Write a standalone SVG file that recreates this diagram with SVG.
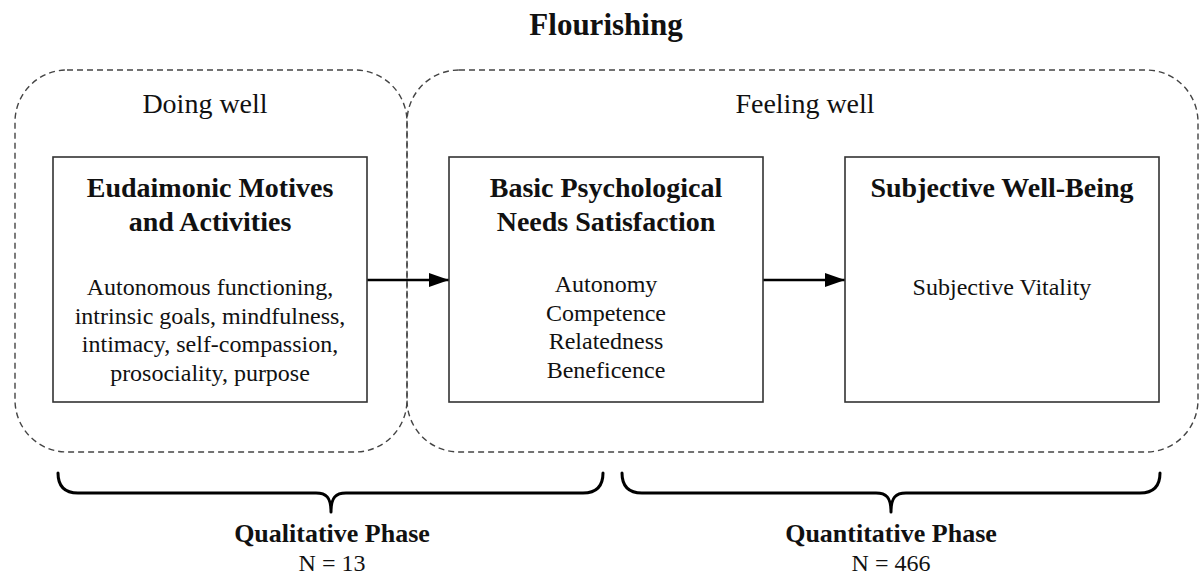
<svg xmlns="http://www.w3.org/2000/svg" width="1201" height="576" viewBox="0 0 1201 576">
<style>
text{font-family:"Liberation Serif","Times New Roman",serif;fill:#111;text-anchor:middle}
.t{font-weight:bold;font-size:28px}
.b{font-size:24px}
.g{font-size:28px}
.h{font-weight:bold;font-size:31px}
.p{font-weight:bold;font-size:26px}
.grp{fill:none;stroke:#444;stroke-width:1.4;stroke-dasharray:6 4}
.box{fill:#fff;stroke:#333;stroke-width:1.6}
.edge{stroke:#000;stroke-width:2.6;fill:none}
.brace{stroke:#000;stroke-width:3;fill:none;stroke-linecap:round;stroke-linejoin:round}
</style>
<defs>
<marker id="ah" markerWidth="20" markerHeight="14" refX="20" refY="7" orient="auto" markerUnits="userSpaceOnUse">
<path d="M0,0 L20,7 L0,14 Z" fill="#000"/>
</marker>
</defs>
<rect width="1201" height="576" fill="#fff"/>
<text class="h" x="606" y="35">Flourishing</text>
<g id="doing-well">
<rect class="grp" x="15" y="70" width="392" height="382" rx="52" ry="52"/>
<text class="g" x="205" y="113">Doing well</text>
</g>
<g id="feeling-well">
<rect class="grp" x="407" y="70" width="791" height="382" rx="52" ry="52"/>
<text class="g" x="805" y="113">Feeling well</text>
</g>
<g id="connectors">
<line class="edge" x1="367" y1="280" x2="449" y2="280" marker-end="url(#ah)"/>
<line class="edge" x1="763" y1="280" x2="845" y2="280" marker-end="url(#ah)"/>
</g>
<g id="eudaimonic">
<rect class="box" x="53" y="157" width="314" height="245"/>
<text class="t" x="210" y="197">Eudaimonic Motives</text>
<text class="t" x="210" y="231">and Activities</text>
<text class="b" x="210" y="295">Autonomous functioning,</text>
<text class="b" x="210" y="323.5">intrinsic goals, mindfulness,</text>
<text class="b" x="210" y="352">intimacy, self-compassion,</text>
<text class="b" x="210" y="380.5">prosociality, purpose</text>
</g>
<g id="needs">
<rect class="box" x="449" y="157" width="314" height="245"/>
<text class="t" x="606" y="197">Basic Psychological</text>
<text class="t" x="606" y="231">Needs Satisfaction</text>
<text class="b" x="606" y="292">Autonomy</text>
<text class="b" x="606" y="320.5">Competence</text>
<text class="b" x="606" y="349">Relatedness</text>
<text class="b" x="606" y="377.5">Beneficence</text>
</g>
<g id="swb">
<rect class="box" x="845" y="157" width="314" height="245"/>
<text class="t" x="1002" y="197">Subjective Well-Being</text>
<text class="b" x="1002" y="295">Subjective Vitality</text>
</g>
<g id="qualitative">
<path class="brace" d="M58,473 Q58,493 78,493 L316,493 C326,493 331,497 331,512 C331,497 336,493 346,493 L583,493 Q603,493 603,473"/>
<text class="p" x="332" y="542">Qualitative Phase</text>
<text class="b" x="332" y="571">N = 13</text>
</g>
<g id="quantitative">
<path class="brace" d="M622,473 Q622,493 642,493 L876,493 C886,493 891,497 891,512 C891,497 896,493 906,493 L1140,493 Q1160,493 1160,473"/>
<text class="p" x="891" y="542">Quantitative Phase</text>
<text class="b" x="891" y="571">N = 466</text>
</g>
</svg>
